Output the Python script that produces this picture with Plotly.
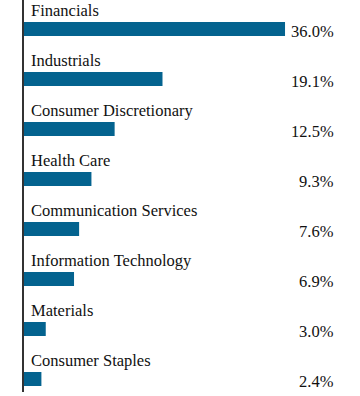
import plotly.graph_objects as go

categories = ["Financials", "Industrials", "Consumer Discretionary", "Health Care",
              "Communication Services", "Information Technology", "Materials", "Consumer Staples"]
values = [36.0, 19.1, 12.5, 9.3, 7.6, 6.9, 3.0, 2.4]
value_labels = ["36.0%", "19.1%", "12.5%", "9.3%", "7.6%", "6.9%", "3.0%", "2.4%"]

pos = list(range(len(categories)))
FONT = "Liberation Serif"

fig = go.Figure()
fig.add_trace(go.Bar(
    x=values, y=pos, orientation="h", width=0.28,
    marker=dict(color="#04638f", line=dict(width=0)),
    hoverinfo="skip",
))

annotations = []
for i, (c, v) in enumerate(zip(categories, value_labels)):
    annotations.append(dict(x=0, xref="x", y=i - 0.37, yref="y", text=c, showarrow=False,
                            xanchor="left", yanchor="middle", xshift=5,
                            font=dict(family=FONT, size=16.5, color="#111111")))
    annotations.append(dict(x=1, xref="paper", y=i + 0.05, yref="y", text=v, showarrow=False,
                            xanchor="right", yanchor="middle",
                            font=dict(family=FONT, size=16.5, color="#111111")))

fig.update_layout(
    width=360, height=396,
    margin=dict(l=24, r=24, t=0, b=4),
    paper_bgcolor="white", plot_bgcolor="white",
    showlegend=False,
    font=dict(family=FONT),
    annotations=annotations,
    xaxis=dict(range=[0, 43.03], visible=False, fixedrange=True),
    yaxis=dict(range=[7.26, -0.58], showticklabels=False, ticks="", showgrid=False,
               zeroline=False, showline=True, linecolor="#333333", linewidth=1.5,
               fixedrange=True),
)

fig.write_html("out.html", config={"displayModeBar": False},
               post_script="document.body.style.margin='0';document.body.style.overflow='hidden';")
